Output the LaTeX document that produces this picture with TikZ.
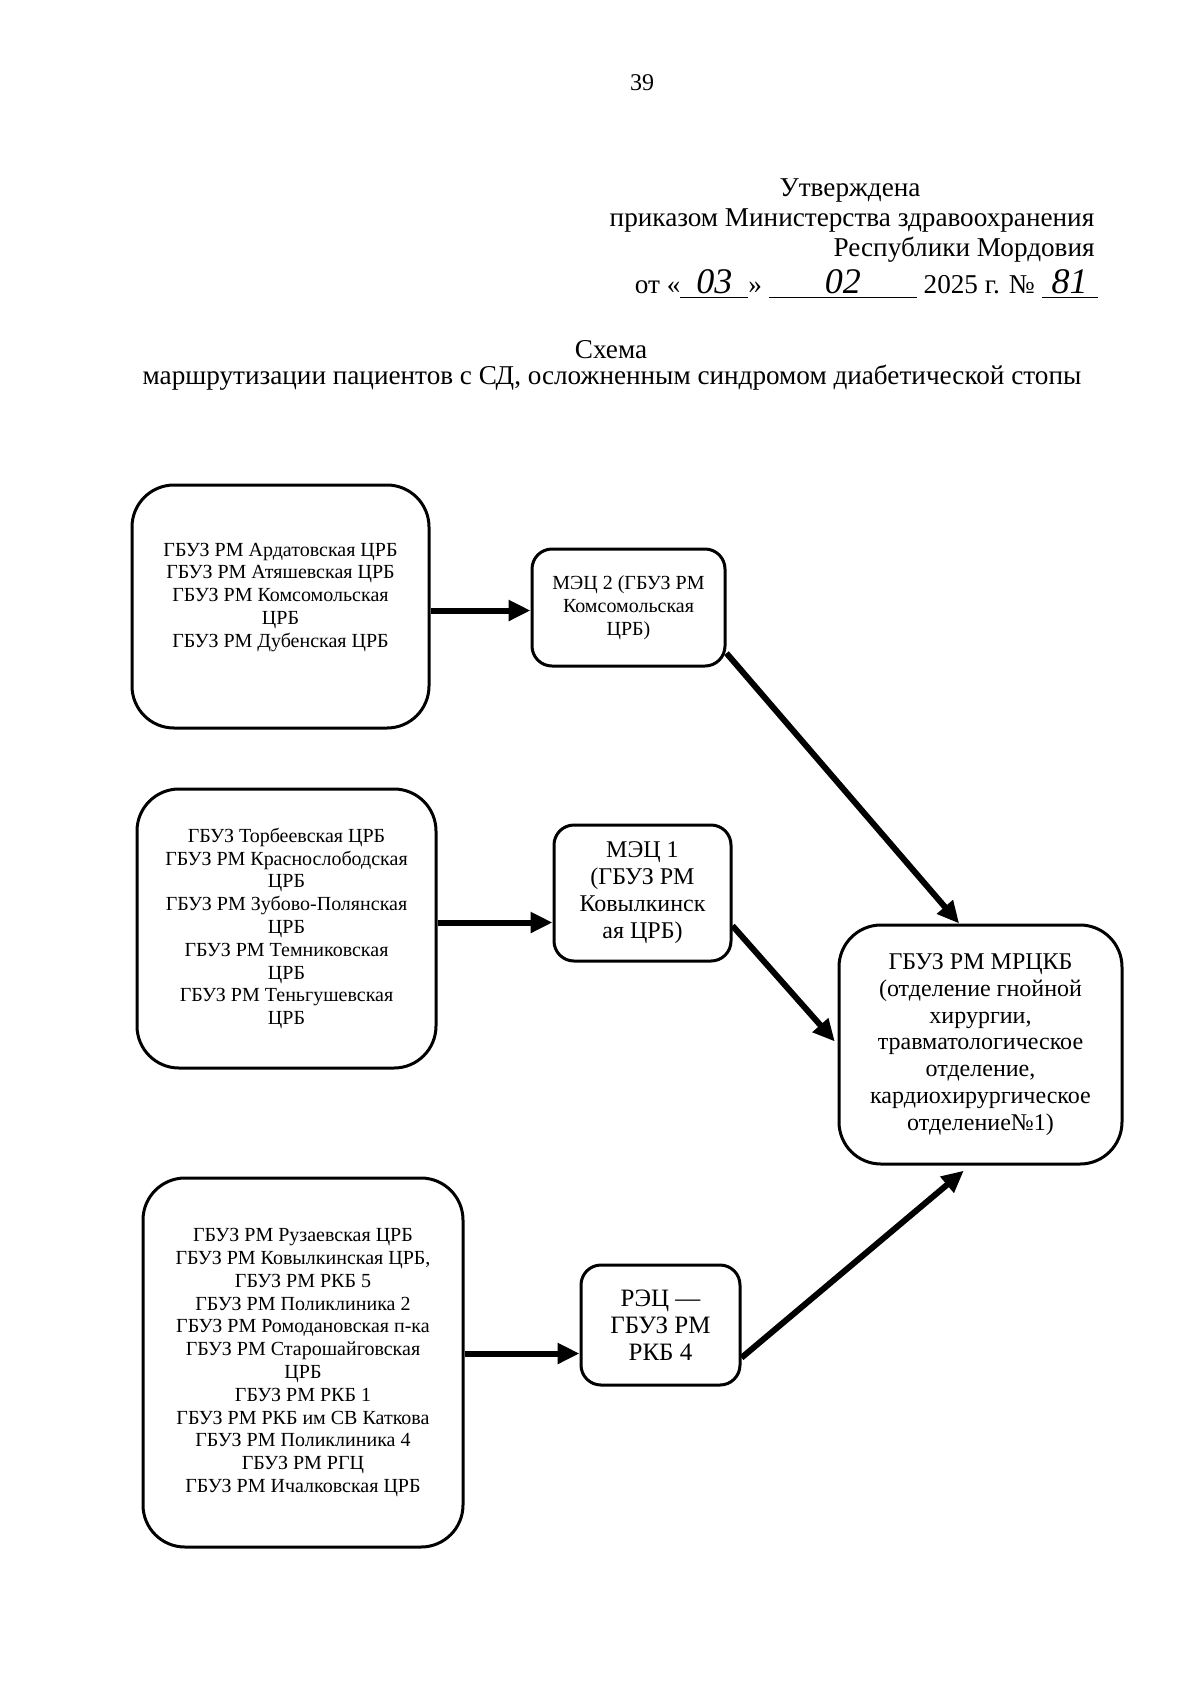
\documentclass[tikz,border=0pt]{standalone}
\usepackage{fontspec}
\setmainfont{Liberation Serif}
\usetikzlibrary{arrows.meta,positioning}

\begin{document}
\begin{tikzpicture}[x=0.5pt,y=-0.5pt,
  uchr/.style={draw, line width=1.5pt, rounded corners=21pt, align=center,
               font=\fontsize{10}{11.4}\selectfont, inner sep=4pt},
  mec/.style={draw, line width=1.5pt, rounded corners=10pt, align=center,
              inner sep=3pt},
  strelka/.style={-{Triangle[length=11pt,width=10pt]}, line width=3pt},
  shapka/.style={font=\fontsize{13.6}{16}\selectfont, inner sep=0pt}
]
\useasboundingbox (0,0) rectangle (1200,1688);
% шапка
\node[font=\fontsize{12}{14}\selectfont] (nomer) at (642,83) {39};
\node[shapka] (utv) at (850,190) {Утверждена};
\node[shapka] (prikaz) at (852,220) {приказом Министерства здравоохранения};
\node[shapka, anchor=east] (resp) at (1095,250) {Республики Мордовия};
\node[shapka, anchor=east] (data) at (1098,284)
  {от «\underline{\makebox[34pt]{\fontsize{18}{18}\selectfont\itshape 03}}»
   \underline{\makebox[74pt]{\fontsize{18}{18}\selectfont\itshape 02}}
   2025 г. № \underline{\makebox[28pt]{\fontsize{18}{18}\selectfont\itshape 81}}};
\node[shapka] (shema) at (611,350) {Схема};
\node[shapka] (nazv) at (612,378)
  {маршрутизации пациентов с СД, осложненным синдромом диабетической стопы};
% блоки
\node[uchr, minimum width=148.5pt, minimum height=121.5pt] (a1) at (280.5,606.5)
  {ГБУЗ РМ Ардатовская ЦРБ\\ГБУЗ РМ Атяшевская ЦРБ\\ГБУЗ РМ Комсомольская\\ЦРБ\\ГБУЗ РМ Дубенская ЦРБ\\\mbox{}};
\node[mec, minimum width=96.5pt, minimum height=58.5pt,
      font=\fontsize{10}{11.6}\selectfont] (m2) at (628.5,607.5)
  {МЭЦ 2 (ГБУЗ РМ\\Комсомольская\\ЦРБ)};
\node[uchr, minimum width=149.5pt, minimum height=139.5pt] (a2) at (286.5,928.5)
  {ГБУЗ Торбеевская ЦРБ\\ГБУЗ РМ Краснослободская\\ЦРБ\\ГБУЗ РМ Зубово-Полянская\\ЦРБ\\ГБУЗ РМ Темниковская\\ЦРБ\\ГБУЗ РМ Теньгушевская\\ЦРБ};
\node[mec, minimum width=88.5pt, minimum height=68pt,
      font=\fontsize{12}{13.5}\selectfont] (m1) at (642.5,893)
  {МЭЦ 1\\(ГБУЗ РМ\\Ковылкинск\\ая ЦРБ)};
\node[uchr, minimum width=141.5pt, minimum height=119.5pt,
      font=\fontsize{12}{13.4}\selectfont] (mrckb) at (980.5,1044.5)
  {ГБУЗ РМ МРЦКБ\\(отделение гнойной\\хирургии,\\травматологическое\\отделение,\\кардиохирургическое\\отделение№1)};
\node[uchr, minimum width=160pt, minimum height=184.5pt] (a3) at (303,1362.5)
  {ГБУЗ РМ Рузаевская ЦРБ\\ГБУЗ РМ Ковылкинская ЦРБ,\\ГБУЗ РМ РКБ 5\\ГБУЗ РМ Поликлиника 2\\ГБУЗ РМ Ромодановская п-ка\\ГБУЗ РМ Старошайговская\\ЦРБ\\ГБУЗ РМ РКБ 1\\ГБУЗ РМ РКБ им СВ Каткова\\ГБУЗ РМ Поликлиника 4\\ГБУЗ РМ РГЦ\\ГБУЗ РМ Ичалковская ЦРБ};
\node[mec, minimum width=79.5pt, minimum height=60pt,
      font=\fontsize{12.5}{13.5}\selectfont] (rec) at (660.5,1325)
  {РЭЦ —\\ГБУЗ РМ\\РКБ 4};
% стрелки
\draw[strelka] ([yshift=-2pt]a1.east) -- ([yshift=-2pt]a1.east -| m2.west);
\draw[strelka] (m2.-25) -- (mrckb.100);
\draw[strelka] ([yshift=3pt]a2.east) -- ([yshift=3pt]a2.east -| m1.west);
\draw[strelka, shorten >=2pt] (m1.-20) -- (mrckb.west);
\draw[strelka] ([yshift=4.5pt]a3.east) -- ([yshift=4.5pt]a3.east -| rec.west);
\draw[strelka, shorten >=4pt] (rec.-22) -- (mrckb.-95);
\end{tikzpicture}
\end{document}
